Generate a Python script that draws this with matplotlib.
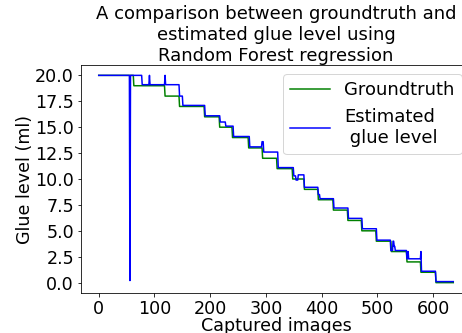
import numpy as np
import matplotlib
matplotlib.use("Agg")
import matplotlib.pyplot as plt

# Groundtruth staircase: start index of each level, and the level value
gt_starts = [0, 63, 119, 145, 190, 217, 240, 269, 294, 320, 348, 369, 394,
             421, 447, 472, 498, 525, 553, 578, 605]
gt_levels = [20, 19, 18, 17, 16, 15, 14, 13, 12, 11, 10, 9, 8,
             7, 6, 5, 4, 3, 2, 1, 0]
n_images = 637

# Estimated glue level (Random Forest): run starts and values
est_starts = [0, 56, 57, 78, 91, 92, 119, 120, 145, 151, 191, 218, 228, 242,
              271, 293, 296, 322, 350, 354, 358, 369, 394, 397, 422, 448,
              473, 499, 524, 528, 530, 532, 553, 555, 556, 578, 579, 605]
est_levels = [20, 0.2, 20, 19.1, 20, 19.1, 20, 19.1, 18, 17.1, 16.1, 15.5,
              15.1, 14.1, 13.1, 13.6, 12.6, 11.1, 10.3, 9.9, 10.4, 9.2, 8.5,
              8.1, 7.2, 6.2, 5.2, 4.1, 3.1, 4.0, 3.5, 3.1, 2.3, 3.0, 2.3,
              3.0, 1.1, 0.1]

title = "A comparison between groundtruth and\nestimated glue level using\nRandom Forest regression"
xlabel = "Captured images"
ylabel = "Glue level (ml)"
labels = ["Groundtruth", "Estimated\n glue level"]


def runs_to_series(starts, levels, n):
    lengths = np.diff(list(starts) + [n])
    return np.repeat(levels, lengths)


gt = runs_to_series(gt_starts, gt_levels, n_images)
est = runs_to_series(est_starts, est_levels, n_images)
x = np.arange(n_images)

fig = plt.figure(figsize=(462 / 72, 333 / 72), dpi=72)
ax = fig.add_axes([81 / 462, 40 / 333, (471 - 81) / 462, 228 / 333])
ax.plot(x, gt, color="g", linewidth=1.5, label=labels[0])
ax.plot(x, est, color="b", linewidth=1.5, label=labels[1])
ax.set_xticks([0, 100, 200, 300, 400, 500, 600])
ax.set_yticks([0, 2.5, 5, 7.5, 10, 12.5, 15, 17.5, 20])
ax.tick_params(labelsize=17.5)
ax.set_xlabel(xlabel, fontsize=17.5, labelpad=-1)
ax.set_ylabel(ylabel, fontsize=17.5, labelpad=1)
ax.set_title(title, fontsize=18, pad=3)
ax.legend(loc="upper right", fontsize=18, handlelength=2.2)
fig.savefig("out.png", dpi=72)
